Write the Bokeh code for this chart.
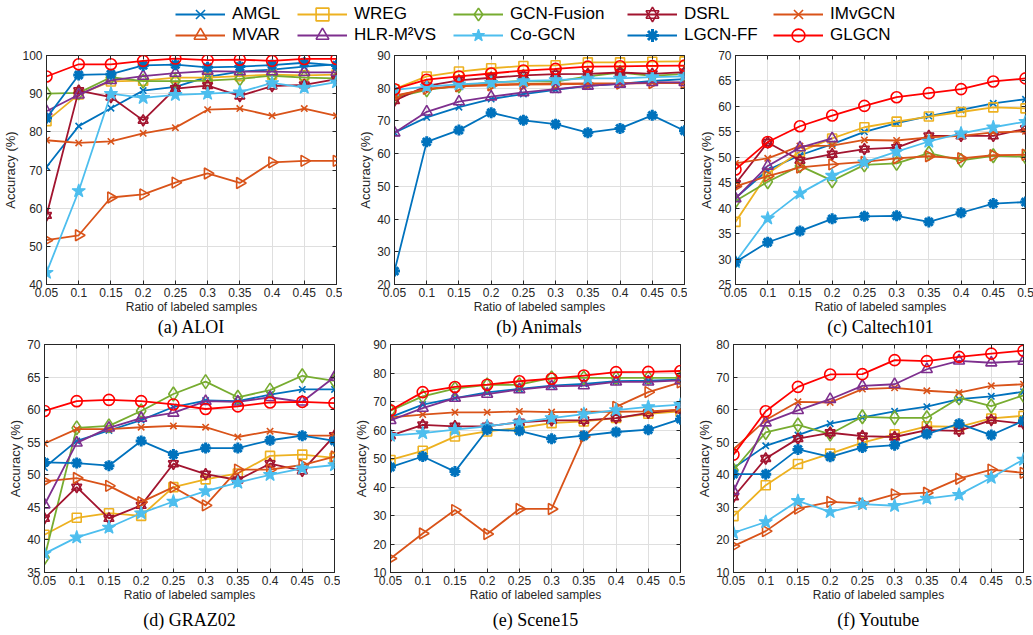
import math
import numpy as np
from bokeh.plotting import figure
from bokeh.models import (FixedTicker, LinearAxis, Range1d, Legend, LegendItem,
                          CustomJSTickFormatter)
from bokeh.layouts import column, row
from bokeh.embed import file_html
from bokeh.resources import INLINE

nan = float("nan")

ratios = [0.05, 0.1, 0.15, 0.2, 0.25, 0.3, 0.35, 0.4, 0.45, 0.5]
methods = ["AMGL", "WREG", "GCN-Fusion", "DSRL", "IMvGCN",
           "MVAR", "HLR-M²VS", "Co-GCN", "LGCN-FF", "GLGCN"]

# (a) ALOI
aloi_amgl = [70.8, 81.5, 86.2, 90.8, 91.8, 94.4, 95.8, 96.3, 97.1, 97.7]
aloi_wreg = [82.8, 89.8, 93.2, 93.4, 94.2, 94.2, 94.6, 95.0, 94.8, 95.0]
aloi_gcnf = [90.0, 90.2, 94.3, 93.3, 93.3, 93.4, 93.9, 94.7, 94.2, 94.0]
aloi_dsrl = [58.1, 90.8, 89.1, 83.0, 91.3, 92.1, 89.4, 92.0, 92.3, 93.8]
aloi_imvgcn = [77.8, 77.1, 77.5, 79.6, 81.1, 85.8, 86.1, 84.2, 86.1, 84.2]
aloi_mvar = [51.6, 52.9, 62.8, 63.6, 66.7, 69.1, 66.6, 72.0, 72.4, 72.4]
aloi_hlr = [85.4, 89.7, 93.5, 94.6, 95.4, 95.9, 95.8, 95.8, 95.6, 95.6]
aloi_cogcn = [43.1, 64.5, 90.0, 88.9, 89.7, 90.0, 90.4, 92.8, 91.6, 93.0]
aloi_lgcnff = [83.6, 94.9, 95.1, 97.4, 97.6, 96.9, 97.1, 97.5, 98.1, 97.4]
aloi_glgcn = [94.5, 97.7, 97.7, 98.6, 99.2, 98.8, 98.9, 98.6, 99.1, 99.1]

# (b) Animals
animals_amgl = [66.4, 71.1, 74.2, 76.7, 78.2, 79.5, 80.7, 81.3, 82.2, 82.8]
animals_wreg = [79.7, 83.6, 85.1, 86.1, 86.8, 87.0, 87.9, 87.9, 88.1, 88.2]
animals_gcnf = [77.1, 79.5, 80.7, 81.8, 82.2, 82.0, 83.6, 84.8, 83.8, 84.4]
animals_dsrl = [76.2, 80.7, 82.4, 83.2, 83.9, 84.3, 84.4, 84.8, 84.4, 84.9]
animals_imvgcn = [77.7, 79.7, 80.7, 81.1, 81.3, 81.4, 81.5, 81.5, 81.7, 81.7]
animals_mvar = [77.5, 79.8, 80.6, 80.9, 81.1, 81.2, 81.3, 81.4, 81.6, 81.6]
animals_hlr = [66.4, 72.8, 75.9, 77.4, 78.7, 79.7, 80.7, 81.3, 81.8, 81.8]
animals_cogcn = [79.5, 80.5, 81.2, 81.7, 82.2, 82.5, 83.0, 83.0, 83.4, 83.6]
animals_lgcnff = [24.1, 63.6, 67.2, 72.5, 70.2, 69.0, 66.4, 67.7, 71.7, 67.0]
animals_glgcn = [79.7, 82.6, 83.6, 84.5, 85.4, 85.9, 86.6, 86.7, 86.8, 86.9]

# (c) Caltech101
caltech_amgl = [42.0, 47.5, 50.4, 52.6, 55.0, 56.7, 58.1, 59.3, 60.6, 61.4]
caltech_wreg = [37.3, 46.8, 51.1, 53.7, 55.9, 57.0, 58.0, 58.9, 59.8, 59.6]
caltech_gcnf = [41.4, 45.2, 48.3, 45.4, 48.5, 48.8, 50.8, 49.4, 50.3, 50.1]
caltech_dsrl = [44.8, 52.9, 49.4, 50.6, 51.6, 51.9, 54.2, 54.2, 54.2, 55.6]
caltech_imvgcn = [48.8, 49.8, 52.2, 52.3, 53.4, 53.3, 53.9, 54.2, 54.9, 55.1]
caltech_mvar = [44.3, 46.3, 48.0, 48.6, 49.1, 49.8, 50.2, 49.8, 50.4, 50.5]
caltech_hlr = [41.9, 48.3, 51.9, 53.7, nan, nan, nan, nan, nan, nan]
caltech_cogcn = [29.4, 38.0, 42.9, 46.4, 49.0, 51.1, 53.1, 54.7, 55.9, 57.0]
caltech_lgcnff = [29.4, 33.3, 35.5, 37.9, 38.4, 38.5, 37.3, 39.1, 40.9, 41.2]
caltech_glgcn = [47.6, 53.0, 56.1, 58.2, 60.1, 61.8, 62.6, 63.4, 64.9, 65.5]

# (d) GRAZ02
graz_amgl = [51.1, 55.2, 56.8, 58.4, 60.4, 61.4, 61.3, 62.3, 63.1, 63.1]
graz_wreg = [40.8, 43.4, 44.1, 43.7, 48.1, 49.3, 50.2, 52.9, 53.1, 52.6]
graz_gcnf = [37.3, 57.2, 57.5, 59.8, 62.4, 64.3, 61.9, 63.0, 65.2, 64.4]
graz_dsrl = [43.3, 48.1, 43.3, 45.3, 51.7, 50.1, 49.2, 51.7, 50.6, 56.0]
graz_imvgcn = [54.8, 57.0, 57.0, 57.3, 57.5, 57.3, 55.8, 56.7, 56.0, 56.0]
graz_mvar = [49.0, 49.5, 48.3, 45.8, 48.1, 45.3, 50.8, 50.8, 51.5, 52.8]
graz_hlr = [45.4, 54.9, 57.2, 58.7, 59.5, 61.3, 61.2, 61.9, 61.2, 65.0]
graz_cogcn = [37.9, 40.4, 41.9, 44.1, 45.9, 47.5, 48.8, 50.0, 51.0, 51.5]
graz_lgcnff = [51.9, 51.8, 51.4, 55.2, 53.1, 54.1, 54.1, 55.3, 56.0, 55.2]
graz_glgcn = [59.8, 61.3, 61.5, 61.3, 60.8, 60.1, 60.5, 61.1, 61.2, 61.0]

# (e) Scene15
scene_amgl = [64.5, 68.9, 71.2, 73.2, 74.4, 75.6, 76.2, 77.1, 77.3, 77.7]
scene_wreg = [49.5, 52.7, 57.7, 59.5, 60.7, 62.4, 63.0, 64.2, 65.7, 66.5]
scene_gcnf = [66.8, 71.8, 74.5, 75.8, 75.9, 78.3, 78.3, 78.3, 78.3, 78.3]
scene_dsrl = [58.0, 61.8, 61.3, 61.3, 62.7, 63.4, 63.4, 64.2, 66.0, 67.1]
scene_imvgcn = [64.4, 65.4, 66.2, 66.2, 66.5, 66.3, 66.4, 66.4, 66.5, 67.1]
scene_mvar = [14.9, 23.7, 31.9, 23.5, 32.3, 32.3, 57.7, 68.1, 73.3, 76.7]
scene_hlr = [63.4, 67.7, 71.2, 72.6, 74.2, 75.3, 75.6, 76.9, 76.9, 77.4]
scene_cogcn = [58.0, 58.9, 60.1, 61.3, 62.7, 64.2, 65.6, 67.0, 68.1, 68.9]
scene_lgcnff = [47.0, 50.7, 45.4, 60.1, 59.7, 56.9, 58.0, 59.3, 60.1, 63.8]
scene_glgcn = [66.9, 73.3, 75.1, 75.9, 77.1, 78.0, 79.1, 80.3, 80.4, 80.7]

# (f) Youtube
yt_amgl = [42.1, 48.9, 52.2, 55.7, 57.6, 59.5, 60.9, 63.2, 64.1, 65.5]
yt_wreg = [27.3, 36.8, 43.3, 46.5, 49.9, 52.4, 54.9, 54.7, 57.3, 58.1]
yt_gcnf = [41.4, 53.0, 55.3, 52.5, 57.8, 57.5, 57.5, 63.6, 61.1, 64.4]
yt_dsrl = [33.2, 45.0, 51.1, 52.9, 51.9, 51.6, 53.7, 53.5, 56.8, 55.7]
yt_imvgcn = [47.8, 56.8, 62.4, 62.2, 66.3, 66.7, 65.8, 65.2, 67.3, 67.8]
yt_mvar = [18.1, 22.7, 29.6, 31.7, 31.2, 34.0, 34.5, 38.8, 41.6, 40.6]
yt_hlr = [35.0, 56.0, 59.8, 63.2, 67.3, 67.8, 72.4, 75.0, 74.4, 74.9]
yt_cogcn = [22.2, 25.5, 32.0, 28.6, 31.0, 30.5, 32.7, 33.9, 39.1, 44.7]
yt_lgcnff = [40.2, 40.2, 47.8, 45.5, 48.4, 49.1, 52.5, 55.7, 52.2, 56.6]
yt_glgcn = [46.2, 59.5, 67.0, 70.8, 70.9, 75.2, 74.9, 76.2, 77.2, 78.1]

datasets = [
    ("(a) ALOI", [aloi_amgl, aloi_wreg, aloi_gcnf, aloi_dsrl, aloi_imvgcn,
                  aloi_mvar, aloi_hlr, aloi_cogcn, aloi_lgcnff, aloi_glgcn], 40, 100, 10),
    ("(b) Animals", [animals_amgl, animals_wreg, animals_gcnf, animals_dsrl, animals_imvgcn,
                     animals_mvar, animals_hlr, animals_cogcn, animals_lgcnff, animals_glgcn], 20, 90, 10),
    ("(c) Caltech101", [caltech_amgl, caltech_wreg, caltech_gcnf, caltech_dsrl, caltech_imvgcn,
                        caltech_mvar, caltech_hlr, caltech_cogcn, caltech_lgcnff, caltech_glgcn], 25, 70, 5),
    ("(d) GRAZ02", [graz_amgl, graz_wreg, graz_gcnf, graz_dsrl, graz_imvgcn,
                    graz_mvar, graz_hlr, graz_cogcn, graz_lgcnff, graz_glgcn], 35, 70, 5),
    ("(e) Scene15", [scene_amgl, scene_wreg, scene_gcnf, scene_dsrl, scene_imvgcn,
                     scene_mvar, scene_hlr, scene_cogcn, scene_lgcnff, scene_glgcn], 10, 90, 10),
    ("(f) Youtube", [yt_amgl, yt_wreg, yt_gcnf, yt_dsrl, yt_imvgcn,
                     yt_mvar, yt_hlr, yt_cogcn, yt_lgcnff, yt_glgcn], 10, 80, 10),
]

BLUE = "#0072BD"; ORANGE = "#D95319"; YELLOW = "#EDB120"; PURPLE = "#7E2F8E"
GREEN = "#77AC30"; LBLUE = "#4DBEEE"; DRED = "#A2142F"; RED = "#FF0000"

STYLE = {
    "AMGL":       dict(color=BLUE,   marks=[("x", 0.0)],                 size=9,  fill=None,  mlw=1.6),
    "WREG":       dict(color=YELLOW, marks=[("square", 0.0)],            size=9,  fill=None,  mlw=1.6),
    "GCN-Fusion": dict(color=GREEN,  marks=[("diamond", 0.0)],           size=14, fill=None,  mlw=1.6),
    "DSRL":       dict(color=DRED,   marks=[("triangle", 0.0), ("inverted_triangle", 0.0)], size=10, fill=None, mlw=1.6),
    "IMvGCN":     dict(color=ORANGE, marks=[("x", 0.0)],                 size=9,  fill=None,  mlw=1.6),
    "MVAR":       dict(color=ORANGE, marks=[("triangle", -math.pi / 2)], size=11, fill=None,  mlw=1.6),
    "HLR-M²VS":   dict(color=PURPLE, marks=[("triangle", 0.0)],          size=11, fill=None,  mlw=1.6),
    "Co-GCN":     dict(color=LBLUE,  marks=[("star", 0.0)],              size=14, fill=LBLUE, mlw=1.2),
    "LGCN-FF":    dict(color=BLUE,   marks=[("asterisk", 0.0)],          size=11, fill=None,  mlw=3.0),
    "GLGCN":      dict(color=RED,    marks=[("circle", 0.0)],            size=11, fill=None,  mlw=1.6),
}

TXT = "#262626"
GRID = "#dfdfdf"


def draw_series(p, xs, ys, name):
    st = STYLE[name]
    rs = [p.line(xs, ys, line_color=st["color"], line_width=1.8)]
    for mk, ang in st["marks"]:
        rs.append(p.scatter(xs, ys, marker=mk, angle=ang, size=st["size"],
                            line_color=st["color"], line_width=st["mlw"],
                            fill_color=st["fill"]))
    return rs


def make_panel(caption, series, ylo, yhi, ystep, bl, br, bt, bb, fh, cap_standoff):
    p = figure(frame_width=290, frame_height=fh, title=None,
               x_range=Range1d(0.05, 0.5), y_range=Range1d(ylo, yhi),
               output_backend="svg", toolbar_location=None,
               min_border_left=bl, min_border_right=br,
               min_border_top=bt, min_border_bottom=bb,
               background_fill_color="white", border_fill_color="white")
    p.outline_line_color = TXT
    p.outline_line_width = 1
    xt = FixedTicker(ticks=ratios, minor_ticks=[])
    yt = FixedTicker(ticks=list(range(ylo, yhi + 1, ystep)), minor_ticks=[])
    p.xaxis.ticker = xt
    p.yaxis.ticker = yt
    p.xaxis.formatter = CustomJSTickFormatter(code="return tick.toString();")
    for ax in (p.xaxis[0], p.yaxis[0]):
        ax.major_tick_in = 4
        ax.major_tick_out = 0
        ax.minor_tick_in = 0
        ax.minor_tick_out = 0
        ax.axis_line_color = TXT
        ax.major_tick_line_color = TXT
        ax.major_label_text_font = "Liberation Sans"
        ax.major_label_text_font_size = "12px"
        ax.major_label_text_color = TXT
        ax.major_label_standoff = 4
        ax.axis_label_text_font = "Liberation Sans"
        ax.axis_label_text_font_style = "normal"
        ax.axis_label_text_color = TXT
        ax.axis_label_standoff = 1
    p.xaxis.major_label_standoff = 3
    p.xaxis.axis_label_standoff = 0
    p.xaxis.axis_label = "Ratio of labeled samples"
    p.xaxis.axis_label_text_font_size = "12px"
    p.yaxis.axis_label = "Accuracy (%)"
    p.yaxis.axis_label_text_font_size = "13px"
    # mirrored ticks on the box (no labels)
    blank = CustomJSTickFormatter(code="return '';")
    ra = LinearAxis(ticker=yt, formatter=blank, major_label_standoff=0,
                    major_tick_in=4, major_tick_out=0, minor_tick_in=0, minor_tick_out=0,
                    axis_line_color=None, major_tick_line_color=TXT)
    p.add_layout(ra, "right")
    ta = LinearAxis(ticker=xt, formatter=blank, major_label_standoff=0,
                    major_tick_in=4, major_tick_out=0, minor_tick_in=0, minor_tick_out=0,
                    axis_line_color=None, major_tick_line_color=TXT)
    p.add_layout(ta, "above")
    p.xgrid.grid_line_color = GRID
    p.ygrid.grid_line_color = GRID
    for name, ys in zip(methods, series):
        draw_series(p, ratios, np.array(ys, dtype=float), name)
    # sub-figure caption as an extra, tick-less axis label below the x axis
    cap = LinearAxis(ticker=FixedTicker(ticks=[], minor_ticks=[]),
                     axis_line_color=None, major_tick_line_color=None,
                     minor_tick_line_color=None, major_label_standoff=0,
                     major_tick_in=0, major_tick_out=0, minor_tick_in=0, minor_tick_out=0,
                     axis_label=caption, axis_label_standoff=cap_standoff,
                     axis_label_text_font="Liberation Serif",
                     axis_label_text_font_size="18px",
                     axis_label_text_font_style="normal",
                     axis_label_text_color="black")
    p.add_layout(cap, "below")
    return p


row1_borders = [(44, 6), (52, 3), (48, 10)]
row2_borders = [(44, 6), (50, 5), (48, 10)]

panels = []
for i, (cap, series, lo, hi, st) in enumerate(datasets):
    if i < 3:
        bl, br = row1_borders[i]
        p = make_panel(cap, series, lo, hi, st, bl, br, 10, 52, 229, 0)
    else:
        bl, br = row2_borders[i - 3]
        p = make_panel(cap, series, lo, hi, st, bl, br, 5, 63, 228, 5)
    panels.append(p)

# legend strip (proxy renderers use ALOI values, which lie outside this strip's range)
leg = figure(width=1033, height=45, x_range=Range1d(0, 1), y_range=Range1d(0, 1),
             x_axis_type=None, y_axis_type=None, min_border=0, title=None,
             output_backend="svg", toolbar_location=None)
leg.outline_line_color = None
col_x = [175, 297, 453, 627, 773]
for k, name in enumerate(methods):
    rs = draw_series(leg, ratios, np.array(datasets[0][1][k], dtype=float), name)
    r, c = divmod(k, 5)
    y = 15 if r == 0 else -6
    lg = Legend(items=[LegendItem(label=name, renderers=rs)],
                location=(col_x[c], y), orientation="vertical",
                glyph_width=50, glyph_height=32, label_height=32, label_standoff=7,
                padding=0, margin=0, spacing=0,
                border_line_color=None, background_fill_alpha=0,
                label_text_font="Liberation Sans", label_text_font_size="17px",
                label_text_color="black")
    leg.add_layout(lg, "center")

layout = column(leg, row(*panels[:3]), row(*panels[3:]))
open("out.html", "w").write(file_html(layout, INLINE))
